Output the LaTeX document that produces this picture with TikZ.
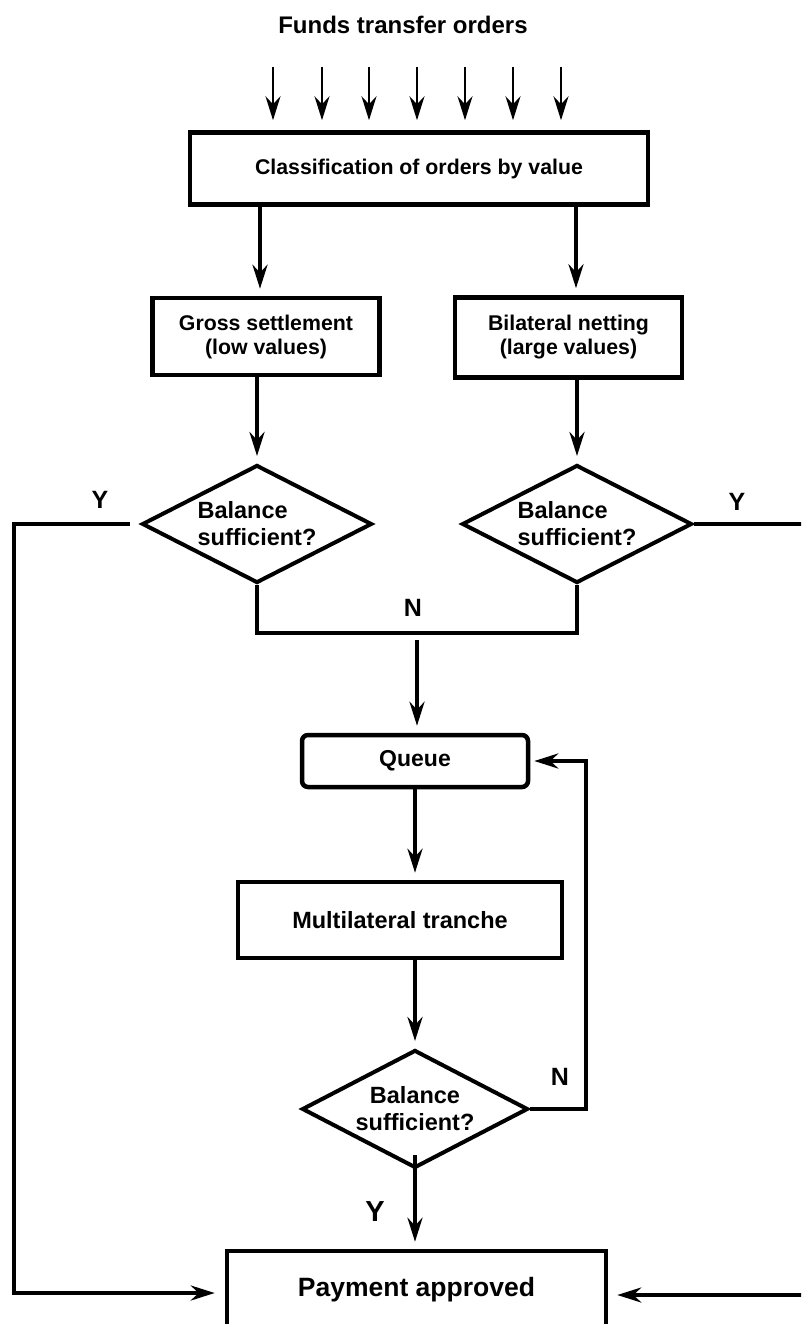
\documentclass[tikz,border=0pt]{standalone}
\usepackage{fontspec}
\setmainfont{Liberation Sans}
\usetikzlibrary{shapes.geometric,arrows.meta}
\begin{document}
\begin{tikzpicture}[x=1pt,y=-1pt,
  box/.style={draw,line width=4.5pt,inner sep=0pt,align=center},
  dec/.style={draw,diamond,line width=4pt,inner sep=0pt,shape aspect=1.95,
    minimum width=230pt,minimum height=118pt,
    font=\fontsize{23.5}{27}\selectfont\bfseries},
  tipstyle/.style={-{Stealth[length=24pt,width=15pt,inset=8pt]}},
  arr/.style={line width=4pt,tipstyle,shorten >=7pt},
  thinarr/.style={line width=2pt,tipstyle,shorten >=10pt},
  conn/.style={line width=4pt},
  lab/.style={font=\fontsize{25}{30}\selectfont\bfseries}]
\path[use as bounding box,clip] (0,0) rectangle (801,1324);

% nodes
\node[font=\fontsize{24}{28}\selectfont\bfseries] (title) at (403,25) {Funds transfer orders};
\node[box,minimum width=458pt,minimum height=72pt,font=\fontsize{21.3}{25}\selectfont\bfseries] (class) at (419,168.5) {Classification of orders by value};
\node[box,minimum width=227pt,minimum height=77pt,font=\fontsize{21.3}{24}\selectfont\bfseries] (gross) at (266,336.5) {Gross settlement\\(low values)};
\node[box,minimum width=227pt,minimum height=80pt,font=\fontsize{21.3}{24}\selectfont\bfseries] (bilat) at (568.5,337.5) {Bilateral netting\\(large values)};
\node[dec,align=left] (dl) at (257,524) {Balance\\sufficient?};
\node[dec,align=left] (dr) at (577,524) {Balance\\sufficient?};
\node[box,rounded corners=6pt,minimum width=226pt,minimum height=52pt,font=\fontsize{23}{27}\selectfont\bfseries] (queue) at (415,761) {Queue};
\node[box,minimum width=324pt,minimum height=76pt,font=\fontsize{23.5}{27}\selectfont\bfseries] (multi) at (400,920) {Multilateral tranche};
\node[dec,align=center,minimum width=226pt] (db) at (415,1109) {Balance\\sufficient?};
\node[box,minimum width=379pt,minimum height=78pt,font=\fontsize{26.5}{30}\selectfont\bfseries] (pay) at (416.5,1290) {Payment approved};

% labels
\node[lab] (yl) at (100,500) {Y};
\node[lab] (yr) at (737,502) {Y};
\node[lab] (nm) at (413,608) {N};
\node[lab] (nb) at (560,1077) {N};
\node[font=\fontsize{29}{34}\selectfont\bfseries] (yb) at (375,1212) {Y};

% incoming orders
\foreach \x in {273,322,369,417,465,513,561}{
  \coordinate (in\x) at (\x,67);
  \draw[thinarr] (in\x) -- (in\x |- class.north);
}

% classification to branches
\draw[arr] (class.south -| 260,0) -- (gross.north -| 260,0);
\draw[arr] (class.south -| 576,0) -- (bilat.north -| 576,0);
\draw[arr] (gross.south -| dl.north) -- (dl.north);
\draw[arr] (bilat.south -| dr.north) -- (dr.north);

% N junction
\coordinate (nj) at (417,633);
\draw[conn] (dl.south) |- (nj) -| (dr.south);
\draw[arr] ([yshift=-7pt]nj) -- (nj |- queue.north);

% queue -> multilateral -> decision
\draw[arr] (queue.south) -- (queue.south |- multi.north);
\draw[arr] (multi.south -| db.north) -- (db.north);

% loop back to queue
\coordinate (lp) at (586,0);
\draw[arr,shorten >=4pt] (db.east) -| (lp |- queue.east) -- (queue.east);

% Y to payment
\draw[arr] ([yshift=15pt]db.south) -- (db.south |- pay.north);
\coordinate (cl) at (14,524);
\draw[arr,shorten >=10pt] ([xshift=-10pt]dl.west) -- (cl) |- ([yshift=-3pt]pay.west);
\coordinate (cr) at (812,524);
\draw[arr,shorten >=9pt] (dr.east) -- (cr) |- ([yshift=-5pt]pay.east);
\end{tikzpicture}
\end{document}
